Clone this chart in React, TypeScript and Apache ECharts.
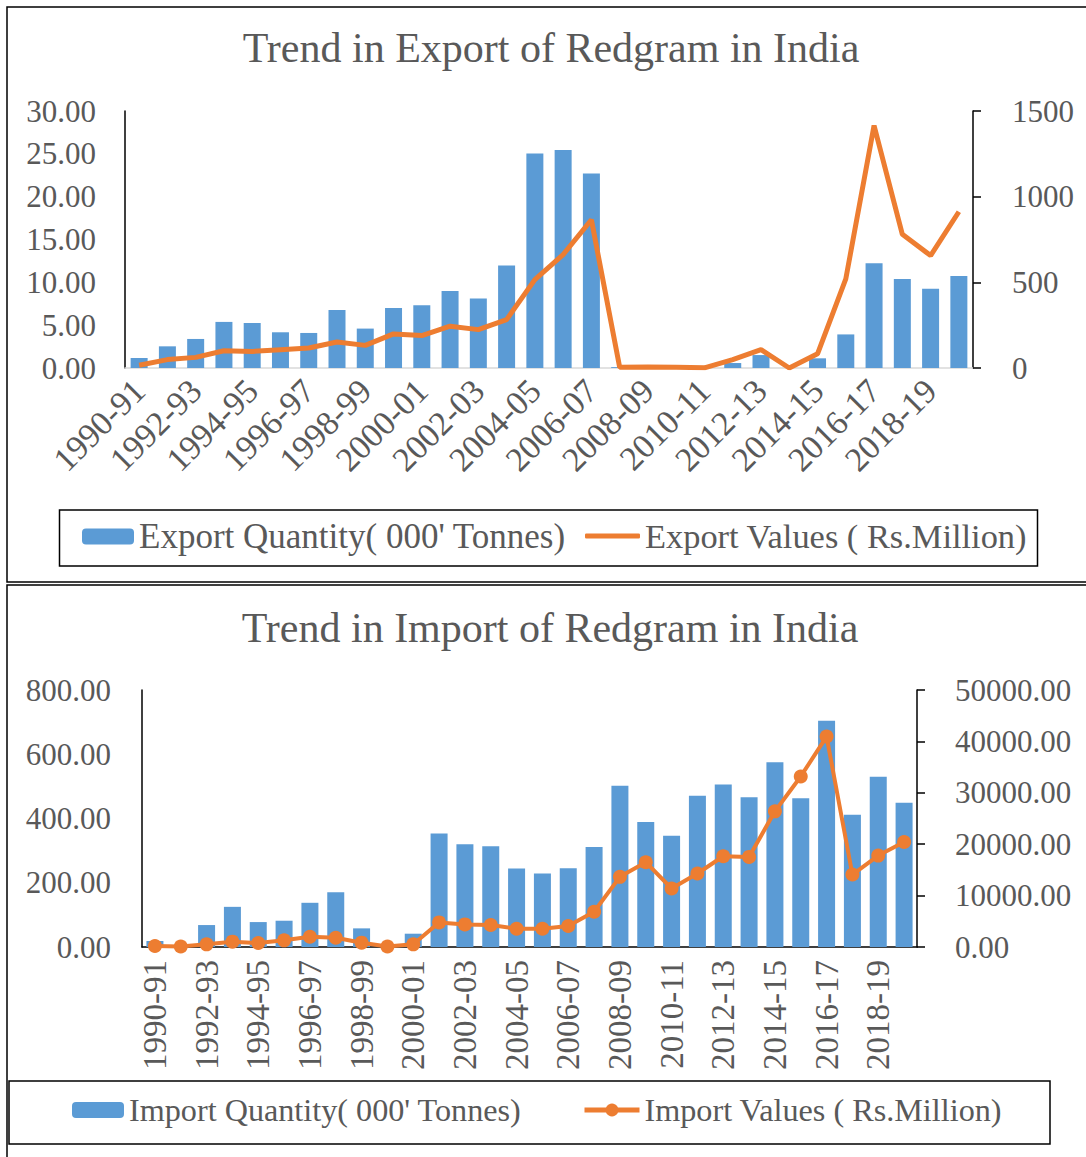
import React, { useEffect, useRef } from "react";
import * as echarts from "echarts";

const years = [
  "1990-91", "1991-92", "1992-93", "1993-94", "1994-95", "1995-96", "1996-97", "1997-98",
  "1998-99", "1999-00", "2000-01", "2001-02", "2002-03", "2003-04", "2004-05", "2005-06",
  "2006-07", "2007-08", "2008-09", "2009-10", "2010-11", "2011-12", "2012-13", "2013-14",
  "2014-15", "2015-16", "2016-17", "2017-18", "2018-19", "2019-20",
];

const exportQty = [
  1.17, 2.53, 3.39, 5.38, 5.26, 4.17, 4.09, 6.78, 4.6, 7.01, 7.32, 9.0, 8.1, 11.96, 25.05,
  25.44, 22.71, 0.1, 0, 0, 0, 0.58, 1.51, 0, 1.13, 3.92, 12.23, 10.4, 9.24, 10.75,
];
const exportVal = [
  16, 49, 62, 101, 97, 107, 117, 152, 132, 199, 189, 244, 224, 282, 516, 662, 865, 4, 6, 4,
  1, 49, 107, 0, 83, 520, 1415, 780, 656, 912,
];
const importQty = [
  18.6, 5, 68.3, 125, 77.6, 81.8, 137.6, 170.8, 58, 3, 41.4, 353, 320, 313.6, 244, 228.7,
  245, 311.5, 502, 389, 346, 471, 506, 466, 575, 463, 704, 412, 530, 449,
];
const importVal = [
  200, 100, 520, 1035, 776, 1294, 2005, 1811, 841, 100, 517, 4786, 4398, 4269, 3557, 3557,
  4075, 6856, 13648, 16494, 11384, 14295, 17658, 17529, 26390, 33182, 40944, 14101, 17788,
  20440,
];

const exportTitle = "Trend in Export of Redgram in India";
const importTitle = "Trend in Import of Redgram in India";
const seriesNames = [
  "Export Quantity( 000' Tonnes)",
  "Export Values ( Rs.Million)",
  "Import Quantity( 000' Tonnes)",
  "Import Values ( Rs.Million)",
];

const FONT = "'Liberation Serif', 'Times New Roman', serif";
const GRAY = "#595959";
const BLUE = "#5B9BD5";
const ORANGE = "#ED7D31";

export default function App() {
  const ref = useRef<HTMLDivElement>(null);

  useEffect(() => {
    document.body.style.margin = "0";
    if (!ref.current) return;
    const chart = echarts.init(ref.current, undefined, { renderer: "svg" });

    const axisLabel = (margin: number, fmt: (v: number) => string) => ({
      color: GRAY,
      fontFamily: FONT,
      fontSize: 31,
      margin,
      formatter: fmt,
    });

    const legendTop = { color: GRAY, fontFamily: FONT, fontSize: 35 };
    const legendTop2 = { color: GRAY, fontFamily: FONT, fontSize: 34.4 };
    const legendBottom = { color: GRAY, fontFamily: FONT, fontSize: 32.2 };

    const option: any = {
      animation: false,
      backgroundColor: "#ffffff",
      title: [
        {
          text: exportTitle,
          left: 551,
          top: 27,
          padding: 0,
          textAlign: "center",
          textStyle: { color: GRAY, fontFamily: FONT, fontSize: 42, fontWeight: "normal" },
        },
        {
          text: importTitle,
          left: 550,
          top: 607,
          padding: 0,
          textAlign: "center",
          textStyle: { color: GRAY, fontFamily: FONT, fontSize: 42, fontWeight: "normal" },
        },
      ],
      legend: [
        {
          data: [seriesNames[0]],
          left: 82,
          top: 519,
          padding: 0,
          itemWidth: 52,
          itemHeight: 16,
          textStyle: legendTop,
        },
        {
          data: [{ name: seriesNames[1], icon: "roundRect" }],
          left: 585,
          top: 519,
          padding: 0,
          itemWidth: 55,
          itemHeight: 5,
          textStyle: legendTop2,
        },
        {
          data: [seriesNames[2]],
          left: 72,
          top: 1094,
          padding: 0,
          itemWidth: 52,
          itemHeight: 16,
          textStyle: legendBottom,
        },
        {
          data: [seriesNames[3]],
          left: 582,
          top: 1094,
          padding: 0,
          itemWidth: 55,
          itemHeight: 16,
          lineStyle: { width: 5 },
          textStyle: legendBottom,
        },
      ],
      grid: [
        { left: 125, top: 111, width: 848, height: 257 },
        { left: 142, top: 690, width: 775, height: 257 },
      ],
      xAxis: [
        {
          type: "category",
          gridIndex: 0,
          data: years,
          axisLine: { lineStyle: { color: "#d9d9d9", width: 1.5 } },
          axisTick: { show: false },
          axisLabel: {
            color: GRAY,
            fontFamily: FONT,
            fontSize: 34,
            rotate: 45,
            interval: 1,
            margin: 17,
          },
        },
        {
          type: "category",
          gridIndex: 1,
          data: years,
          axisLine: { lineStyle: { color: "#000000", width: 1.5 } },
          axisTick: { show: false },
          axisLabel: {
            color: GRAY,
            fontFamily: FONT,
            fontSize: 33,
            rotate: 90,
            interval: 1,
            margin: 13,
          },
        },
      ],
      yAxis: [
        {
          type: "value",
          gridIndex: 0,
          min: 0,
          max: 30,
          interval: 5,
          axisLine: { show: true, lineStyle: { color: "#000000", width: 1.5 } },
          axisTick: { show: false },
          splitLine: { show: false },
          axisLabel: axisLabel(29, (v: number) => v.toFixed(2)),
        },
        {
          type: "value",
          gridIndex: 0,
          position: "right",
          min: 0,
          max: 1500,
          interval: 500,
          axisLine: { show: true, lineStyle: { color: "#000000", width: 1.5 } },
          axisTick: { show: true, length: 8, lineStyle: { color: "#000000", width: 1.5 } },
          splitLine: { show: false },
          axisLabel: axisLabel(39, (v: number) => String(v)),
        },
        {
          type: "value",
          gridIndex: 1,
          min: 0,
          max: 800,
          interval: 200,
          axisLine: { show: true, lineStyle: { color: "#000000", width: 1.5 } },
          axisTick: { show: false },
          splitLine: { show: false },
          axisLabel: axisLabel(31, (v: number) => v.toFixed(2)),
        },
        {
          type: "value",
          gridIndex: 1,
          position: "right",
          min: 0,
          max: 50000,
          interval: 10000,
          axisLine: { show: true, lineStyle: { color: "#000000", width: 1.5 } },
          axisTick: { show: true, length: 8, lineStyle: { color: "#000000", width: 1.5 } },
          splitLine: { show: false },
          axisLabel: axisLabel(38, (v: number) => v.toFixed(2)),
        },
      ],
      series: [
        {
          name: seriesNames[0],
          type: "bar",
          xAxisIndex: 0,
          yAxisIndex: 0,
          data: exportQty,
          barWidth: 17,
          itemStyle: { color: BLUE },
        },
        {
          name: seriesNames[1],
          type: "line",
          xAxisIndex: 0,
          yAxisIndex: 1,
          data: exportVal,
          symbol: "none",
          lineStyle: { color: ORANGE, width: 5 },
          itemStyle: { color: ORANGE },
        },
        {
          name: seriesNames[2],
          type: "bar",
          xAxisIndex: 1,
          yAxisIndex: 2,
          data: importQty,
          barWidth: 17,
          itemStyle: { color: BLUE },
        },
        {
          name: seriesNames[3],
          type: "line",
          xAxisIndex: 1,
          yAxisIndex: 3,
          data: importVal,
          symbol: "circle",
          symbolSize: 14,
          lineStyle: { color: ORANGE, width: 4 },
          itemStyle: { color: ORANGE },
        },
      ],
      graphic: [
        {
          type: "rect",
          shape: { x: 7, y: 7, width: 1100, height: 575 },
          style: { fill: "none", stroke: "#000000", lineWidth: 1.5 },
          silent: true,
        },
        {
          type: "rect",
          shape: { x: 7, y: 585, width: 1100, height: 620 },
          style: { fill: "none", stroke: "#000000", lineWidth: 1.5 },
          silent: true,
        },
        {
          type: "rect",
          shape: { x: 59.5, y: 510, width: 978, height: 56 },
          style: { fill: "none", stroke: "#000000", lineWidth: 1.5 },
          silent: true,
        },
        {
          type: "rect",
          shape: { x: 9, y: 1081, width: 1041, height: 63 },
          style: { fill: "none", stroke: "#000000", lineWidth: 1.5 },
          silent: true,
        },
      ],
    };

    chart.setOption(option);
    return () => chart.dispose();
  }, []);

  return <div ref={ref} style={{ width: 1086, height: 1157 }} />;
}
